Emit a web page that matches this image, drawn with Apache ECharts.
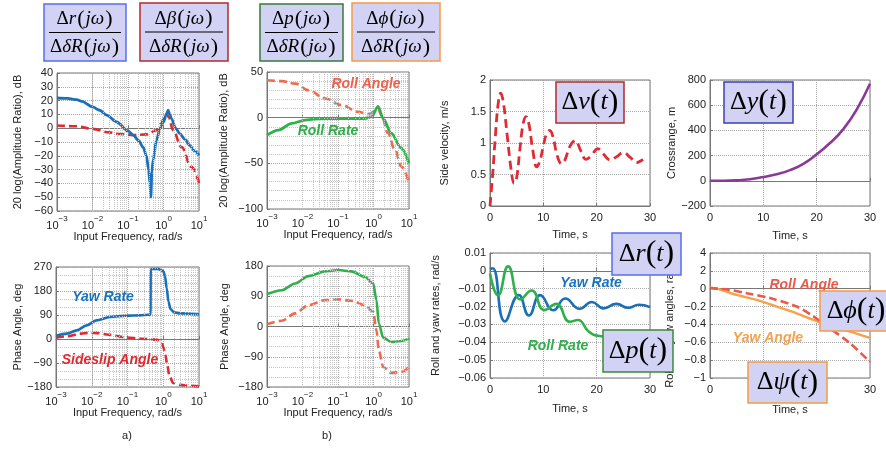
<!DOCTYPE html>
<html><head><meta charset="utf-8">
<script src="https://cdn.jsdelivr.net/npm/echarts@6/dist/echarts.min.js"></script>
<style>html,body{margin:0;padding:0;background:#fff}#c{width:886px;height:450px}</style>
</head><body><div id="c"></div>
<script>
// ---------- data ----------
// Bode a) magnitude [rad/s, dB]
const yawMag = [[0.001,21.9],[0.002,21.6],[0.0036,20.7],[0.005,19.5],[0.01,15.5],[0.016,13],[0.025,9.5],[0.048,4.5],[0.1,-2],[0.14,-5],[0.2,-9],[0.27,-14],[0.33,-20],[0.38,-30],[0.415,-40],[0.44,-50],[0.47,-32],[0.51,-23],[0.63,-9],[0.8,0],[1.0,4.5],[1.2,10],[1.35,13],[1.5,10],[1.67,7],[2.2,0],[2.87,-4],[4,-8],[5.47,-12.4],[7.5,-16.5],[10,-19.7]];
const slipMag = [[0.001,2],[0.0036,1.4],[0.01,-0.5],[0.03,-3],[0.048,-4],[0.14,-5],[0.33,-4.5],[0.63,-1.5],[0.85,3],[1.09,9],[1.25,10.5],[1.4,8],[1.86,-1.5],[3.2,-13.6],[6.1,-28],[10,-39.7]];
// Bode b) magnitude
const rollAngMag = [[0.001,41],[0.0026,40],[0.0063,37.3],[0.0148,30],[0.0436,21],[0.126,13.7],[0.372,6.4],[0.708,3.9],[1.09,6.4],[1.35,10],[1.67,2.8],[2.57,-17],[3.98,-35],[6.1,-53.5],[10,-71.7]];
const rollRateMag = [[0.001,-19],[0.0021,-13.6],[0.005,-6.3],[0.0118,-2.7],[0.028,-1.2],[0.126,-0.9],[0.575,-0.9],[0.88,1],[1.35,12.3],[1.86,-0.9],[3.16,-17],[6.1,-33.5],[10,-50]];
// Bode a) phase [rad/s, deg]
const yawPh = [[0.001,12],[0.002,20],[0.0038,32.5],[0.0072,51],[0.0135,70],[0.032,82.5],[0.093,87.5],[0.22,88.75],[0.4,91],[0.44,92],[0.445,255],[0.47,262],[0.7,263],[1.0,255],[1.12,235],[1.25,190],[1.4,140],[1.6,112],[2,100],[3,96],[10,92.5]];
const slipPh = [[0.001,5],[0.002,10],[0.005,20],[0.008,23],[0.015,22],[0.03,16],[0.09,6],[0.25,1],[0.65,-2.5],[0.9,-12],[1.0,-30],[1.15,-60],[1.3,-100],[1.5,-140],[1.9,-165],[3,-172],[5,-175],[10,-178]];
// Bode b) phase
const rollRatePh = [[0.001,96.5],[0.0026,108],[0.0062,128],[0.0147,150],[0.0435,164],[0.102,168],[0.24,164],[0.57,148],[0.98,128],[1.21,78.6],[1.41,9],[1.87,-33],[3.16,-46],[6.1,-43],[10,-36]];
const rollAngPh = [[0.001,7],[0.0026,17],[0.0062,39],[0.0147,63.6],[0.0435,78.6],[0.102,80.6],[0.24,76.6],[0.57,63.6],[0.98,43.8],[1.21,-11],[1.41,-70.6],[1.87,-120],[3.16,-138],[6.1,-135],[10,-120]];
// Time responses [s, value]
const sideVel = [[0,0],[0.5,0.5],[1,1.1],[1.5,1.6],[2,1.79],[2.5,1.65],[3.25,1.1],[4,0.55],[4.5,0.36],[5,0.45],[5.6,0.9],[6.2,1.3],[6.75,1.42],[7.3,1.3],[8,0.9],[8.75,0.62],[9.3,0.7],[10,0.95],[10.6,1.15],[11.2,1.2],[11.8,1.1],[12.6,0.8],[13.4,0.67],[14,0.72],[15,0.95],[16,1.04],[17,0.88],[18,0.74],[19,0.8],[20.2,0.91],[21.3,0.82],[22.5,0.73],[23.7,0.78],[25,0.85],[26.3,0.77],[27.5,0.69],[28.7,0.74]];
const crossRange = [[0,0],[2.5,0],[5,3],[7.5,12],[10,30],[12.5,52],[15,85],[17.5,135],[20,210],[22.5,300],[25,410],[27.5,565],[30,770]];
const yawRate = [[0,0.001],[0.5,0.0015],[2.8,-0.0283],[5.4,-0.0135],[7.3,-0.025],[9.4,-0.0136],[11.9,-0.0221],[14.1,-0.0155],[16.8,-0.0212],[19.1,-0.0174],[21.3,-0.021],[23.7,-0.0185],[25.9,-0.0207],[27.9,-0.019],[30,-0.0203]];
const rollRate = [[0,-0.0015],[1.5,-0.0137],[3.4,0.0025],[5.7,-0.016],[7.8,-0.011],[10.2,-0.022],[12.4,-0.0185],[15,-0.0285],[16.5,-0.0275],[18.5,-0.034],[20.5,-0.0365],[23,-0.037],[25,-0.037]];
const rollAngle = [[0,0.007],[3.4,-0.01],[6.9,-0.05],[11.25,-0.105],[16.25,-0.2],[19.4,-0.31],[22.5,-0.445],[26.25,-0.61],[30,-0.82]];
const yawAngle = [[0,0.015],[1.9,-0.01],[5,-0.07],[8.75,-0.125],[12.5,-0.2],[16.25,-0.275],[19.4,-0.35],[22.5,-0.42],[26.25,-0.48],[30,-0.55]];
// angle axis tick labels as printed (top two read "4" and "2")
const angleTickLabels = {'0.4':'4','0.2':'2','0':'0','-0.2':'−0.2','-0.4':'−0.4','-0.6':'−0.6','-0.8':'−0.8','-1':'−1'};
const logMinor = [0.002,0.003,0.004,0.005,0.006,0.007,0.008,0.009,0.02,0.03,0.04,0.05,0.06,0.07,0.08,0.09,0.2,0.3,0.4,0.5,0.6,0.7,0.8,0.9,2,3,4,5,6,7,8,9];

// ---------- layout ----------
const F = 'Liberation Sans';
const SERIF = 'Liberation Serif';
const grids = [
  {left:57, top:73, width:142, height:138},
  {left:267, top:72, width:142, height:137},
  {left:56, top:267, width:143, height:120},
  {left:267, top:266, width:142, height:121},
  {left:490, top:80, width:160, height:126},
  {left:710, top:80, width:160, height:126},
  {left:490, top:253, width:160, height:125},
  {left:710, top:253, width:160, height:125}
].map(g => Object.assign({show:true, borderColor:'#777', borderWidth:1, backgroundColor:'#fff', containLabel:false}, g));

const axisLine = {show:true, lineStyle:{color:'#777', width:1}};
const dotted = {show:true, lineStyle:{type:'dotted', color:'#a8a8a8', width:1}};
const minus = s => String(s).replace('-', '−');
const supMap = {'-3':'−3','-2':'−2','-1':'−1','0':'0','1':'1'};

function xLog(gi, gap){
  return {type:'log', logBase:10, gridIndex:gi, min:0.001, max:10,
    name:'Input Frequency, rad/s', nameLocation:'middle', nameGap:gap,
    nameTextStyle:{fontSize:11, color:'#222', fontFamily:F},
    axisLine, axisTick:{show:true, inside:true, length:3, lineStyle:{color:'#777'}},
    splitLine:dotted,
    axisLabel:{margin:4, color:'#222', fontFamily:F,
      formatter: v => { const e = String(Math.round(Math.log10(v))); return '{b|10}{s|' + supMap[e] + '}'; },
      rich:{b:{fontSize:11, fontFamily:F, color:'#222', lineHeight:16, verticalAlign:'bottom'},
            s:{fontSize:8, fontFamily:F, color:'#222', lineHeight:16, verticalAlign:'top'}}}
  };
}
function xTime(gi, gap){
  return {type:'value', gridIndex:gi, min:0, max:30, interval:10,
    name:'Time, s', nameLocation:'middle', nameGap:gap,
    nameTextStyle:{fontSize:11, color:'#222', fontFamily:F},
    axisLine, axisTick:{show:true, inside:true, length:3, lineStyle:{color:'#777'}},
    splitLine:dotted,
    axisLabel:{margin:6, fontSize:11, color:'#222', fontFamily:F}};
}
function yVal(gi, min, max, interval, name, gap, opts){
  return Object.assign({type:'value', gridIndex:gi, min, max, interval,
    name, nameLocation:'middle', nameGap:gap, nameRotate:90,
    nameTextStyle:{fontSize:11, color:'#222', fontFamily:F},
    axisLine, axisTick:{show:true, inside:true, length:3, lineStyle:{color:'#777'}},
    splitLine:dotted,
    axisLabel:{margin:4, fontSize:11, color:'#222', fontFamily:F, formatter: v => minus(+v.toFixed(2))}}, opts||{});
}
const minorY = n => ({minorTick:{show:false, splitNumber:n}, minorSplitLine:{show:true, lineStyle:{type:'dotted', color:'#c4c4c4', width:1}}});

const xAxes = [xLog(0,18.5), xLog(1,18.5), xLog(2,19.5), xLog(3,19.5), xTime(4,23), xTime(5,24), xTime(6,25), xTime(7,26)];
const yAxes = [
  yVal(0,-60,40,10,'20 log(Amplitude Ratio), dB',33.5),
  yVal(1,-100,50,50,'20 log(Amplitude Ratio), dB',37.5, minorY(5)),
  yVal(2,-180,270,90,'Phase Angle, deg',31.5, minorY(3)),
  yVal(3,-180,180,90,'Phase Angle, deg',36.5, minorY(3)),
  yVal(4,0,2,0.5,'Side velocity, m/s',39.5),
  yVal(5,-200,800,200,'Crossrange, m',32.5),
  yVal(6,-0.06,0.01,0.01,'Roll and yaw rates, rad/s',48.5),
  yVal(7,-1,0.4,0.2,'Roll and yaw angles, rad',34.5)
];
yAxes[7].axisLabel.formatter = v => angleTickLabels[String(Math.round(v*10)/10)] || '';
yAxes[7].nameTextStyle.padding = [0, 24, 0, 0];

function line(gi, data, color, dash, w, smooth, mono){
  const s = {type:'line', xAxisIndex:gi, yAxisIndex:gi, data, showSymbol:false, symbol:'none',
    smooth: smooth, z:3, animation:false, silent:true,
    lineStyle:{color, width:w, type: dash || 'solid', cap:'butt'}};
  if (mono) s.smoothMonotone = 'x';
  return s;
}
function minorGrid(gi){
  return {type:'line', xAxisIndex:gi, yAxisIndex:gi, data:[], z:1, silent:true, animation:false,
    markLine:{silent:true, symbol:'none', animation:false, label:{show:false},
      lineStyle:{type:'dotted', color:'#c4c4c4', width:1},
      data: logMinor.map(v => ({xAxis:v}))}};
}

const BLUE='#1a70b8', RED='#e02a30', GREEN='#30b04a', SALMON='#f06a50', PURPLE='#8a3a96', ORANGE='#f6a24c', RED2='#e85a4a';
const D = [8,4];
const series = [
  minorGrid(0), minorGrid(1), minorGrid(2), minorGrid(3),
  line(0, slipMag, RED, D, 2.6, 0.4, true),
  line(0, yawMag, BLUE, null, 2.8, 0.3, true),
  line(1, rollAngMag, SALMON, D, 2.6, 0.4, true),
  line(1, rollRateMag, GREEN, null, 2.8, 0.3, true),
  line(2, slipPh, RED, D, 2.6, 0.3, true),
  line(2, yawPh, BLUE, null, 2.6, 0.3, true),
  line(3, rollAngPh, SALMON, D, 2.6, 0.3, true),
  line(3, rollRatePh, GREEN, null, 2.6, 0.3, true),
  line(4, sideVel, '#e02a36', [9,5], 2.8, 0.4, false),
  line(5, crossRange, PURPLE, null, 2.6, true, false),
  line(6, yawRate, BLUE, null, 2.6, 0.5, false),
  line(6, rollRate, GREEN, null, 2.6, 0.5, false),
  line(7, yawAngle, ORANGE, null, 2.4, 0.3, false),
  line(7, rollAngle, RED2, D, 2.6, 0.3, false)
];

// ---------- annotation graphics ----------
const FILL = '#d2d2f4';
const ZB = 200;
function richMath(fs, ps, pad){
  return {d:{fontFamily:SERIF, fontSize:fs, color:'#000'},
          i:{fontFamily:SERIF, fontSize:fs, fontStyle:'italic', color:'#000'},
          p:{fontFamily:SERIF, fontSize:ps, color:'#000', padding:[0,pad,0,pad]}};
}
function fracBox(x, y, w, h, stroke, num, den){
  return {type:'group', x, y, z:ZB, children:[
    {type:'rect', z:ZB, shape:{x:0,y:0,width:w,height:h}, style:{fill:FILL, stroke, lineWidth:1.5}},
    {type:'text', z:ZB+1, style:{x:w/2, y:h*0.27, text:num, align:'center', verticalAlign:'middle', rich:richMath(19,22,1)}},
    {type:'line', z:ZB+1, shape:{x1:5, y1:h*0.5, x2:w-5, y2:h*0.5}, style:{stroke:'#000', lineWidth:1}},
    {type:'text', z:ZB+1, style:{x:w/2, y:h*0.76, text:den, align:'center', verticalAlign:'middle', rich:richMath(19,22,1)}}
  ]};
}
function mathBox(x, y, w, h, stroke, txt){
  return {type:'group', x, y, z:ZB, children:[
    {type:'rect', z:ZB, shape:{x:0,y:0,width:w,height:h}, style:{fill:FILL, stroke, lineWidth:1.5}},
    {type:'text', z:ZB+1, style:{x:w/2, y:h/2, text:txt, align:'center', verticalAlign:'middle', rich:richMath(26,32,0)}}
  ]};
}
function lbl(x, y, text, color){
  return {type:'text', z:50, style:{x, y, text, fill:color, align:'center', verticalAlign:'middle',
    font:'italic bold 14px "Liberation Sans"'}};
}
const DEN = '{d|Δ}{i|δR}{p|(}{i|jω}{p|)}';
const graphic = [
  fracBox(44, 4, 82, 57, '#5a6cf0', '{d|Δ}{i|r}{p|(}{i|jω}{p|)}', DEN),
  fracBox(140, 3, 88, 58, '#b22a2a', '{d|Δ}{i|β}{p|(}{i|jω}{p|)}', DEN),
  fracBox(260, 4, 83, 57, '#3a7a3a', '{d|Δ}{i|p}{p|(}{i|jω}{p|)}', DEN),
  fracBox(352, 3, 88, 58, '#f59a40', '{d|Δ}{i|ϕ}{p|(}{i|jω}{p|)}', DEN),
  lbl(103, 297, 'Yaw Rate', '#1a73be'),
  lbl(110, 360, 'Sideslip Angle', '#e0282e'),
  lbl(366, 84, 'Roll Angle', '#f0604a'),
  lbl(328, 131, 'Roll Rate', '#2eaf4a'),
  lbl(591, 283, 'Yaw Rate', '#1a73be'),
  lbl(558, 346, 'Roll Rate', '#2eaf4a'),
  lbl(804, 285, 'Roll Angle', '#e85a4a'),
  lbl(768, 338, 'Yaw Angle', '#f5a04a'),
  mathBox(556, 82, 68, 41, '#b22a2a', '{d|Δ}{i|v}{p|(}{i|t}{p|)}'),
  mathBox(724, 82, 69, 41, '#3f3fb0', '{d|Δ}{i|y}{p|(}{i|t}{p|)}'),
  mathBox(612, 233, 69, 42, '#5a6cf0', '{d|Δ}{i|r}{p|(}{i|t}{p|)}'),
  mathBox(603, 330, 70, 42, '#3a8a3a', '{d|Δ}{i|p}{p|(}{i|t}{p|)}'),
  mathBox(820, 291, 72, 40, '#f59a40', '{d|Δ}{i|ϕ}{p|(}{i|t}{p|)}'),
  mathBox(748, 362, 79, 41, '#f59a40', '{d|Δ}{i|ψ}{p|(}{i|t}{p|)}'),
  {type:'text', z:50, style:{x:127, y:436, text:'a)', fill:'#222', align:'center', verticalAlign:'middle', font:'11px "Liberation Sans"'}},
  {type:'text', z:50, style:{x:327, y:436, text:'b)', fill:'#222', align:'center', verticalAlign:'middle', font:'11px "Liberation Sans"'}}
];

const chart = echarts.init(document.getElementById('c'), null, {renderer:'canvas'});
chart.setOption({animation:false, backgroundColor:'#fff', grid:grids, xAxis:xAxes, yAxis:yAxes, series, graphic});
</script></body></html>
